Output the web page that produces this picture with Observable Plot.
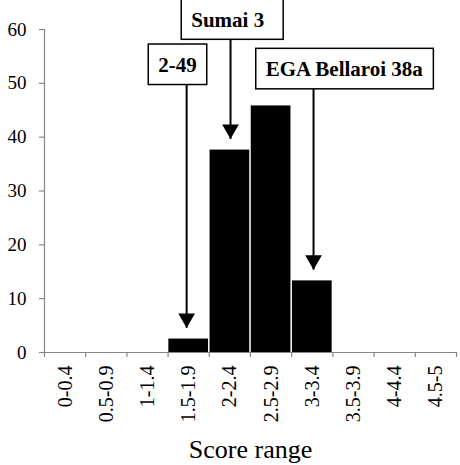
<!DOCTYPE html>
<html>
<head>
<meta charset="utf-8">
<script src="https://cdn.jsdelivr.net/npm/d3@7"></script>
<script src="https://cdn.jsdelivr.net/npm/@observablehq/plot@0.6"></script>
<style>
  body { margin: 0; background: #fff; }
</style>
</head>
<body>
<script>
// ---- data ----
const categories = ["0-0.4", "0.5-0.9", "1-1.4", "1.5-1.9", "2-2.4", "2.5-2.9", "3-3.4", "3.5-3.9", "4-4.4", "4.5-5"];
const values = [0, 0, 0, 2.5, 37.6, 45.8, 13.3, 0, 0, 0];
const yTicks = [0, 10, 20, 30, 40, 50, 60];
const annotationLabels = ["2-49", "Sumai 3", "EGA Bellaroi 38a"];
const annotationCategories = ["1.5-1.9", "2-2.4", "3-3.4"];
const xLabel = "Score range";

// ---- layout (annotation placement, in data units) ----
const labelX = [3.228, 4.447, 7.277];
const labelY = [52.1, 60.5, 51.3];
const arrowOffset = [-0.05, 0.015, 0.03];
const boxExtraRight = [0, 9, 0];
const tipGap = 2;

const serif = "'Liberation Serif', 'Times New Roman', serif";
const gray = "#868686";
const data = categories.map((c, i) => ({category: c, index: i, value: values[i]}));
const ann = annotationLabels.map((label, k) => {
  const i = categories.indexOf(annotationCategories[k]);
  return {
    label,
    ax: i + 0.5 + arrowOffset[k],
    tip: values[i] + tipGap,
    lx: labelX[k],
    ly: labelY[k]
  };
});

const svg = Plot.plot({
  width: 460,
  height: 465,
  marginLeft: 44,
  marginRight: 4,
  marginTop: 29,
  marginBottom: 113,
  style: {fontFamily: serif, background: "#fff", color: "#000"},
  x: {type: "linear", domain: [0, categories.length], axis: null},
  y: {domain: [0, 60], axis: null},
  marks: [
    Plot.rectY(data, {x1: "index", x2: d => d.index + 1, y: "value", fill: "black", insetLeft: 0.75, insetRight: 0.75}),
    // axes lines
    Plot.ruleX([0], {y1: 0, y2: 60, stroke: gray, strokeWidth: 1.2}),
    Plot.ruleY([0], {stroke: gray, strokeWidth: 1.2}),
    // y ticks
    Plot.ruleY(yTicks, {y: d => d, x1: 0, x2: 0, insetLeft: -5, stroke: gray, strokeWidth: 1.2}),
    // x ticks at category boundaries
    Plot.ruleX(d3.range(0, categories.length + 1), {x: d => d, y1: 0, y2: 0, insetBottom: -5, stroke: gray, strokeWidth: 1.2}),
    // y tick labels
    Plot.text(yTicks, {x: 0, y: d => d, text: d => String(d), textAnchor: "end", dx: -18, fontSize: 19, fontFamily: serif, fill: "black"}),
    // x tick labels
    Plot.text(data, {x: d => d.index + 0.5, y: 0, text: "category", rotate: -90, textAnchor: "end", dy: 13, fontSize: 20, fontFamily: serif, fill: "black"}),
    // axis label
    Plot.text([xLabel], {frameAnchor: "bottom", lineAnchor: "bottom", dy: 105, fontSize: 26, fontFamily: serif, fill: "black"}),
    // arrows
    Plot.ruleX(ann, {x: "ax", y1: "tip", y2: "ly", stroke: "black", strokeWidth: 2, insetBottom: 6}),
    Plot.dot(ann, {x: "ax", y: "tip", symbol: "triangle", rotate: 180, r: 6.2, dy: -10, fill: "black", stroke: "none"}),
    // annotation labels
    Plot.text(ann, {x: "lx", y: "ly", text: "label", lineAnchor: "bottom", fontSize: 21, fontWeight: "bold", fontFamily: serif, fill: "black"})
  ]
});

document.body.append(svg);

// draw boxes around the annotation labels
Array.from(svg.querySelectorAll("text"))
  .filter(t => annotationLabels.includes(t.textContent))
  .forEach(t => {
    const k = annotationLabels.indexOf(t.textContent);
    const b = t.getBBox();
    const padX = 10, padTop = 9, padBottom = 7.5;
    const r = document.createElementNS("http://www.w3.org/2000/svg", "rect");
    r.setAttribute("x", b.x - padX);
    r.setAttribute("y", b.y - padTop);
    r.setAttribute("width", b.width + 2 * padX + boxExtraRight[k]);
    r.setAttribute("height", b.height + padTop + padBottom);
    r.setAttribute("fill", "white");
    r.setAttribute("stroke", "black");
    r.setAttribute("stroke-width", 1.5);
    const tr = t.getAttribute("transform");
    if (tr) r.setAttribute("transform", tr);
    t.parentNode.insertBefore(r, t);
  });
</script>
</body>
</html>
